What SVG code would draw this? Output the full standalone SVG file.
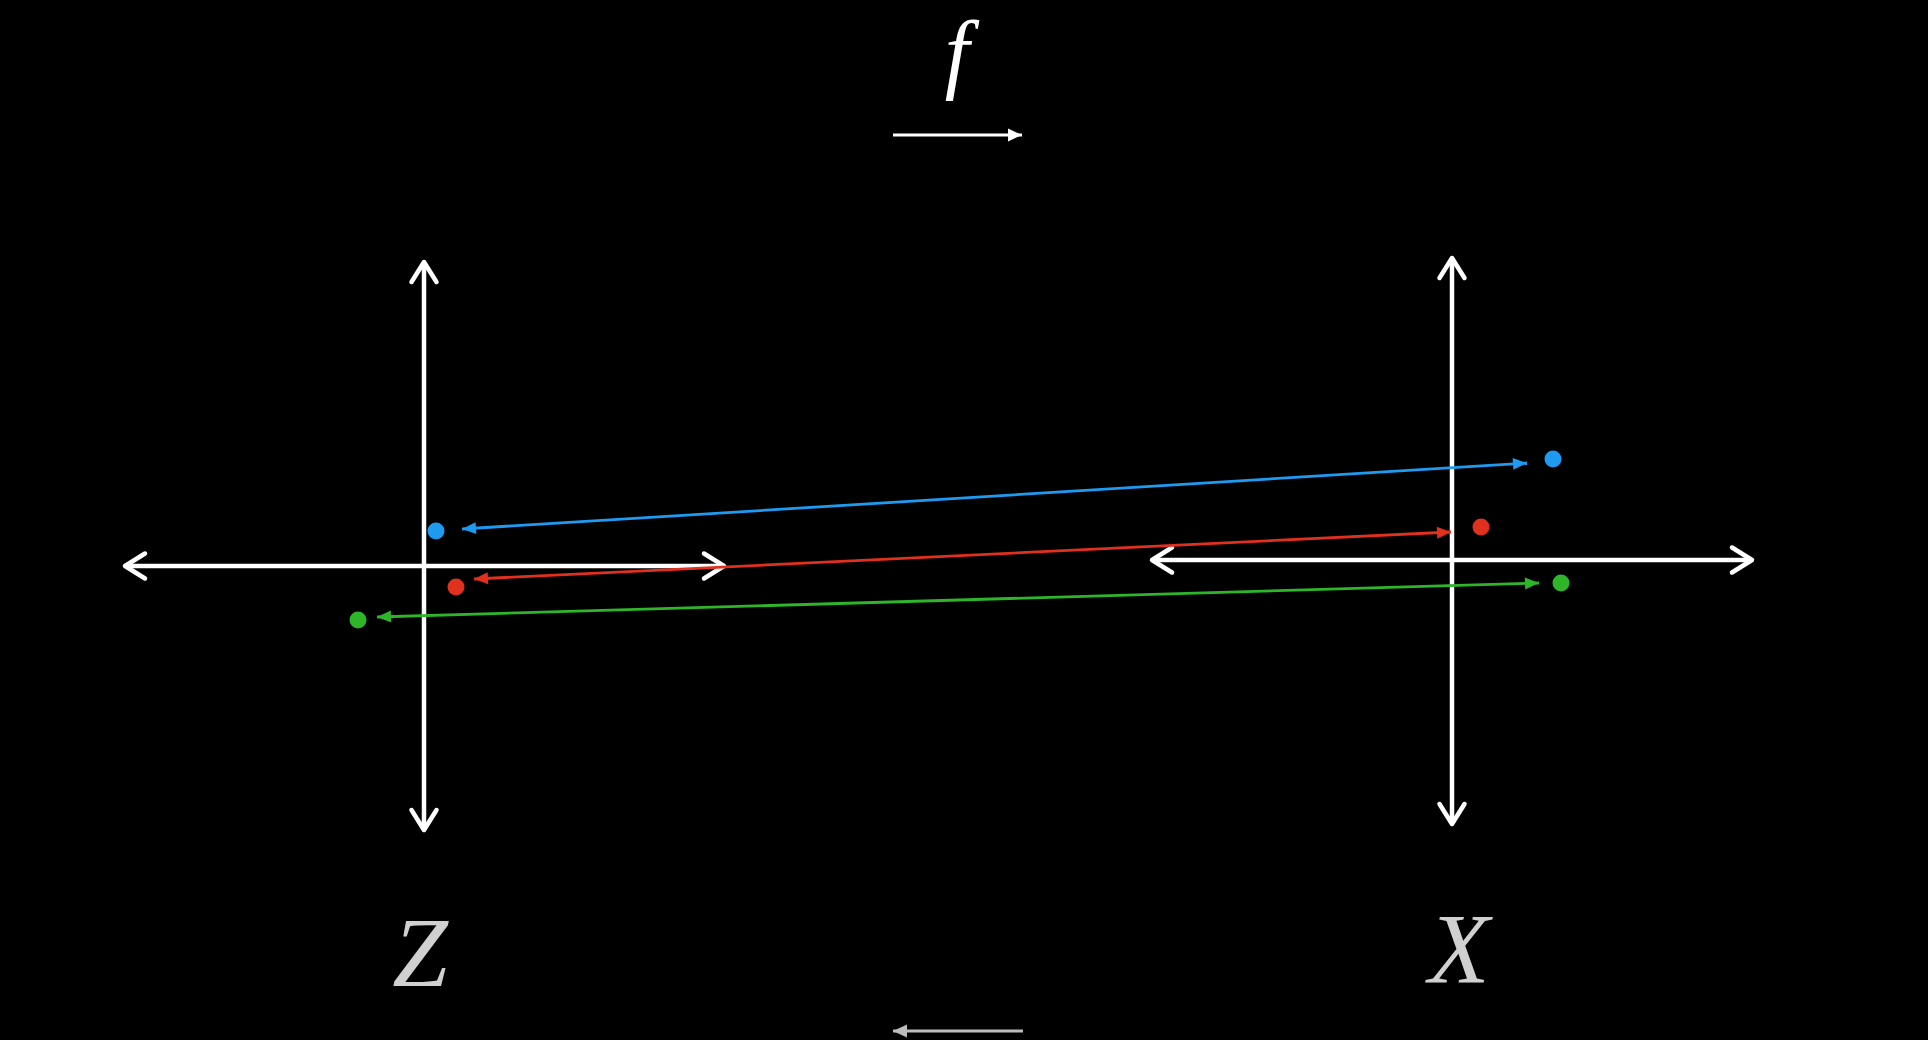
<svg xmlns="http://www.w3.org/2000/svg" width="1928" height="1040" viewBox="0 0 1928 1040">
<style>
.axis{stroke:#ffffff;stroke-width:4.5;fill:none;marker-start:url(#chev);marker-end:url(#chev)}
.map{stroke-width:2.8;fill:none}
.lbl{font-family:"Liberation Serif","DejaVu Serif",serif;font-style:italic}
</style>
<defs>
<marker id="chev" markerUnits="userSpaceOnUse" markerWidth="32" markerHeight="32" viewBox="-26 -16 32 32" refX="0" refY="0" orient="auto-start-reverse">
<path d="M-20,-12.5 L0,0 L-20,12.5" stroke="#ffffff" stroke-width="4.5" fill="none" stroke-linecap="round" stroke-linejoin="round"/>
</marker>
<marker id="hb" markerUnits="userSpaceOnUse" markerWidth="20" markerHeight="20" viewBox="-16 -8 20 16" refX="0" refY="0" orient="auto-start-reverse">
<path d="M-14,-6 L0,0 L-14,6 Z" fill="#1e9bf0"/>
</marker>
<marker id="hr" markerUnits="userSpaceOnUse" markerWidth="20" markerHeight="20" viewBox="-16 -8 20 16" refX="0" refY="0" orient="auto-start-reverse">
<path d="M-14,-6 L0,0 L-14,6 Z" fill="#e0301e"/>
</marker>
<marker id="hg" markerUnits="userSpaceOnUse" markerWidth="20" markerHeight="20" viewBox="-16 -8 20 16" refX="0" refY="0" orient="auto-start-reverse">
<path d="M-14,-6 L0,0 L-14,6 Z" fill="#2eb52a"/>
</marker>
<marker id="hw" markerUnits="userSpaceOnUse" markerWidth="20" markerHeight="20" viewBox="-16 -8 20 16" refX="0" refY="0" orient="auto">
<path d="M-14,-6.5 L0,0 L-14,6.5 Z" fill="#ffffff"/>
</marker>
<marker id="hgray" markerUnits="userSpaceOnUse" markerWidth="20" markerHeight="20" viewBox="-16 -8 20 16" refX="0" refY="0" orient="auto">
<path d="M-14,-6.5 L0,0 L-14,6.5 Z" fill="#bdbdbd"/>
</marker>
</defs>
<rect width="1928" height="1040" fill="#000000"/>
<g id="title">
<text class="lbl" x="957" y="82" font-size="88" fill="#ffffff" text-anchor="middle">f</text>
<line x1="893" y1="135" x2="1022" y2="135" stroke="#ffffff" stroke-width="3.2" marker-end="url(#hw)"/>
</g>
<g id="back-arrow">
<line x1="1023" y1="1031" x2="893" y2="1031" stroke="#bdbdbd" stroke-width="3.2" marker-end="url(#hgray)"/>
</g>
<g id="space-Z">
<line class="axis" x1="424" y1="830" x2="424" y2="262"/>
<line class="axis" x1="125" y1="566" x2="724" y2="566"/>
<text class="lbl" x="420" y="986" font-size="100" fill="#d0d0d0" text-anchor="middle">Z</text>
</g>
<g id="space-X">
<line class="axis" x1="1452" y1="824" x2="1452" y2="258"/>
<line class="axis" x1="1152" y1="560" x2="1752" y2="560"/>
<text class="lbl" x="1459" y="982" font-size="100" fill="#d0d0d0" text-anchor="middle">X</text>
</g>
<g id="points">
<circle id="zb" cx="436" cy="531" r="8.5" fill="#1e9bf0"/>
<circle id="zr" cx="456" cy="587" r="8.5" fill="#e0301e"/>
<circle id="zg" cx="358" cy="620" r="8.5" fill="#2eb52a"/>
<circle id="xb" cx="1553" cy="459" r="8.5" fill="#1e9bf0"/>
<circle id="xr" cx="1481" cy="527" r="8.5" fill="#e0301e"/>
<circle id="xg" cx="1561" cy="583" r="8.5" fill="#2eb52a"/>
</g>
<g id="connectors">
<line class="map" x1="462" y1="529" x2="1527" y2="463" stroke="#1e9bf0" marker-start="url(#hb)" marker-end="url(#hb)"/>
<line class="map" x1="474" y1="579" x2="1451" y2="532" stroke="#e0301e" marker-start="url(#hr)" marker-end="url(#hr)"/>
<line class="map" x1="377" y1="617" x2="1539" y2="583" stroke="#2eb52a" marker-start="url(#hg)" marker-end="url(#hg)"/>
</g>
</svg>
